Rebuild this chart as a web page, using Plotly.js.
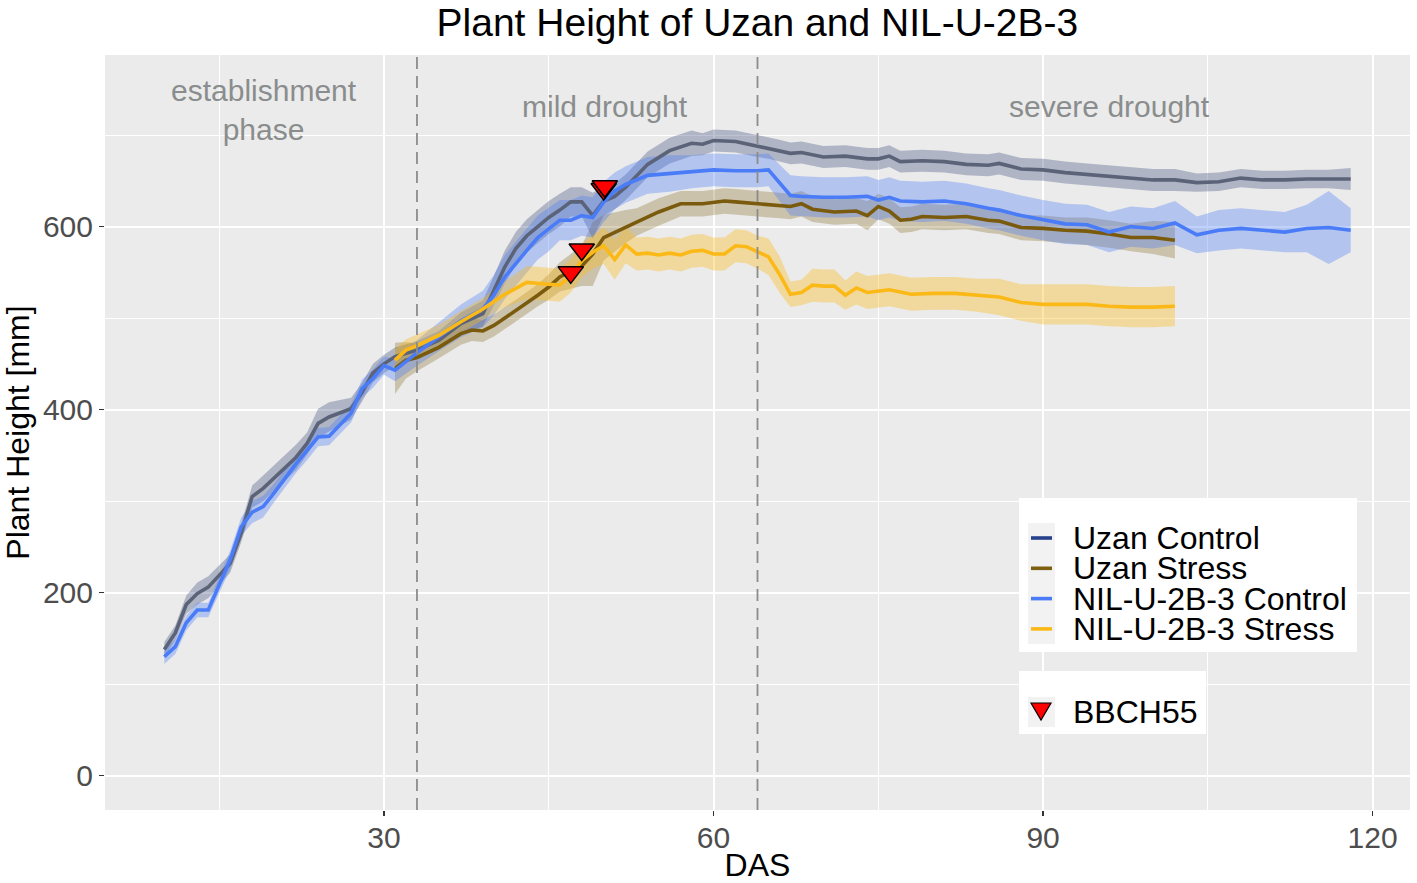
<!DOCTYPE html>
<html>
<head>
<meta charset="utf-8">
<script src="https://cdn.plot.ly/plotly-3.0.1.min.js"></script>
<style>
  html, body { margin: 0; padding: 0; background: #fff; }
  #graph { width: 1417px; height: 883px; }
</style>
</head>
<body>
<div id="graph"></div>
<script>
'use strict';

// Days after sowing, control plants
var ctrlDays = [10,11,12,13,14,16,17,18,19,20,22,23,24,25,27,28,29,30,31,33,35,37,39,
  40,41,42,43,44,45,46,47,48,49,50,51,52,54,56,58,59,60,62,64,65,66,67,68,
  70,72,74,75,76,77,79,81,83,85,86,88,90,92,94,96,98,100,102,104,106,108,110,112,114,116,118];

var uzanCtrl = [138,156,187,199,206,232,265,305,314,325,348,363,385,392,401,419,440,450,458,465,476,494,505,
  530,556,576,590,600,610,618,627,627,612,628,633,643,668,683,691,690,694,693,688,686,683,680,681,
  676,677,674,674,677,671,672,671,668,667,669,663,662,659,657,655,653,651,651,648,649,653,651,651,652,652,652];
var uzanCtrlSd = [8,8,10,12,12,10,10,12,14,14,14,12,16,16,12,10,10,10,10,10,10,12,14,
  16,18,18,18,18,18,18,16,16,25,16,14,14,14,14,14,12,12,12,12,12,12,12,12,
  12,12,12,12,12,12,12,12,12,12,12,12,12,12,12,12,12,12,12,10,10,10,10,10,10,10,12];

var nilCtrl = [130,141,167,181,181,236,272,288,294,309,341,355,370,371,396,423,434,448,443,462,480,497,510,
  525,545,560,574,588,597,607,607,612,610,627,639,646,656,658,660,661,662,661,661,662,648,634,633,
  632,632,633,629,632,628,627,628,625,620,618,612,607,603,602,594,600,598,604,591,596,598,596,594,598,599,596];
var nilCtrlSd = [8,8,8,8,8,10,10,12,12,10,10,10,10,10,10,10,10,10,12,14,16,18,20,
  22,24,24,24,24,24,22,22,22,22,22,20,20,20,20,18,18,18,18,18,18,20,22,22,
  22,22,22,22,22,22,22,22,22,22,22,22,22,22,22,22,22,22,24,20,22,22,22,22,26,40,24];

// Days after sowing, stressed plants
var uzanStressDays = [31,32,33,35,37,38,39,40,41,42,44,45,46,48,49,50,52,53,55,57,59,61,62,64,
  66,67,68,69,71,73,74,75,76,77,78,79,81,83,85,86,88,90,92,94,96,98,100,102];
var uzanStress = [445,454,457,468,483,487,486,492,500,508,525,534,545,557,570,588,600,605,616,625,625,628,627,625,
  623,622,625,619,616,617,612,622,617,607,608,611,610,611,607,606,599,598,596,595,592,588,588,585];
var uzanStressSd = [28,20,15,12,12,12,12,12,12,12,12,14,16,22,35,25,18,15,15,14,14,14,14,14,
  14,14,14,14,14,14,16,14,14,14,14,14,14,14,14,14,14,14,14,15,15,15,18,20];

var nilStressDays = [31,32,33,35,37,39,41,43,45,46,47,48,49,50,51,52,53,54,55,56,57,58,59,60,61,62,63,64,65,66,
  67,68,69,70,71,72,73,74,76,78,80,82,84,86,88,90,92,94,96,98,100,102];
var nilStress = [454,465,470,481,496,510,526,539,537,536,546,563,572,579,564,580,570,571,569,571,569,573,574,570,570,579,578,572,567,548,
  526,528,536,535,535,525,533,528,531,526,527,527,525,523,517,515,515,515,513,512,512,513];
var nilStressSd = [12,12,12,12,12,12,14,18,18,18,18,18,18,20,22,20,18,18,18,18,18,18,18,18,18,18,18,18,20,20,
  14,14,18,18,18,16,18,18,18,18,18,18,18,20,20,22,22,22,22,22,22,22];

// BBCH55 (heading) events
var bbchDays = [50, 50.1, 48, 47];
var bbchHeight = [641, 644, 575, 550];

var seriesNames = ['Uzan Control', 'Uzan Stress', 'NIL-U-2B-3 Control', 'NIL-U-2B-3 Stress'];
var phaseLines = [33, 64];

/**
 *
 * Styles.
 *
 */
var lineColors = ['#5b6379', '#7a5a0c', '#4a7cf7', '#fbb917'];
var keyColors = ['#27408b', '#7f5f10', '#4a7cf7', '#fbb917'];
var ribbonColors = ['rgba(40,55,110,0.30)', 'rgba(122,90,12,0.28)', 'rgba(74,124,247,0.35)', 'rgba(251,185,23,0.36)'];
var font = 'Liberation Sans, Arial, sans-serif';

// plot area in pixels, used to place the hand made legend boxes
var plotBox = { l: 105, r: 1410, t: 55, b: 810 };
function px( v ){ return ( v - plotBox.l ) / ( plotBox.r - plotBox.l ); }
function py( v ){ return ( plotBox.b - v ) / ( plotBox.b - plotBox.t ); }

function ribbon( x, y, sd, color ){
  var upper = [], lower = [];
  for ( var i = 0; i < x.length; i++ ) {
    upper.push( y[i] + sd[i] );
    lower.push( y[i] - sd[i] );
  }
  return {
    type: 'scatter', mode: 'lines',
    x: x.concat( x.slice().reverse() ),
    y: upper.concat( lower.reverse() ),
    fill: 'toself', fillcolor: color,
    line: { width: 0 }, hoverinfo: 'skip', showlegend: false
  };
}

function line( x, y, color ){
  return {
    type: 'scatter', mode: 'lines', x: x, y: y,
    line: { color: color, width: 3.6 }, showlegend: false
  };
}

var groups = [
  [ctrlDays, uzanCtrl, uzanCtrlSd],
  [uzanStressDays, uzanStress, uzanStressSd],
  [ctrlDays, nilCtrl, nilCtrlSd],
  [nilStressDays, nilStress, nilStressSd]
];

var data = [];
groups.forEach(function( g, i ){ data.push( ribbon( g[0], g[1], g[2], ribbonColors[i] ) ); });
groups.forEach(function( g, i ){ data.push( line( g[0], g[1], lineColors[i] ) ); });

data.push({
  type: 'scatter', mode: 'markers', x: bbchDays, y: bbchHeight, name: 'BBCH55', showlegend: false,
  marker: { symbol: 'triangle-down', size: 22, color: '#ff0000', line: { color: '#000', width: 1.5 } }
});

/**
 *
 * Phase separators and labels.
 *
 */
var shapes = phaseLines.map(function( d ){
  return {
    type: 'line', xref: 'x', yref: 'paper', x0: d, x1: d, y0: 0, y1: 1,
    line: { color: '#8c8c8c', width: 1.8, dash: '12px,7px' }
  };
});

var phaseText = { color: '#8a8d8d', size: 30, family: font };
var annotations = [
  { x: 19.1, y: 727, text: 'establishment<br>phase' },
  { x: 50.1, y: 731, text: 'mild drought' },
  { x: 96, y: 731, text: 'severe drought' }
].map(function( a ){
  return { x: a.x, y: a.y, xref: 'x', yref: 'y', text: a.text, showarrow: false, font: phaseText };
});

/**
 *
 * Legend (ggplot style: white boxes with grey key column).
 *
 */
var legendText = { family: font, size: 32, color: '#000' };

function rect( x0, y0, x1, y1, fill ){
  return { type: 'rect', xref: 'paper', yref: 'paper', layer: 'above',
    x0: px( x0 ), x1: px( x1 ), y0: py( y0 ), y1: py( y1 ),
    fillcolor: fill, line: { width: 0 } };
}

shapes.push( rect( 1019, 498, 1357, 652, '#ffffff' ) );
shapes.push( rect( 1028, 523, 1055, 644, '#f2f2f2' ) );
seriesNames.forEach(function( name, i ){
  var yc = 538 + i * 30.3;
  shapes.push({ type: 'line', xref: 'paper', yref: 'paper', layer: 'above',
    x0: px( 1031 ), x1: px( 1052 ), y0: py( yc ), y1: py( yc ),
    line: { color: keyColors[i], width: 3.6 } });
  annotations.push({ xref: 'paper', yref: 'paper', x: px( 1071 ), y: py( yc ),
    xanchor: 'left', yanchor: 'middle', text: name, showarrow: false, font: legendText });
});

shapes.push( rect( 1019, 671, 1206, 734, '#ffffff' ) );
shapes.push( rect( 1028, 697, 1055, 727, '#f2f2f2' ) );
shapes.push({ type: 'path', xref: 'paper', yref: 'paper', layer: 'above',
  path: 'M ' + px( 1031 ) + ',' + py( 703 ) + ' L ' + px( 1051 ) + ',' + py( 703 ) +
        ' L ' + px( 1041 ) + ',' + py( 720 ) + ' Z',
  fillcolor: '#ff0000', line: { color: '#000', width: 1.2 } });
annotations.push({ xref: 'paper', yref: 'paper', x: px( 1071 ), y: py( 712 ),
  xanchor: 'left', yanchor: 'middle', text: 'BBCH55', showarrow: false, font: legendText });

var axisBase = {
  showline: false, zeroline: false,
  gridcolor: '#ffffff', gridwidth: 2,
  ticks: 'outside', ticklen: 5, tickwidth: 1.5, tickcolor: '#333333',
  tickfont: { family: font, size: 30, color: '#4d4d4d' },
  automargin: false
};

var layout = {
  width: 1417, height: 883,
  margin: { l: 105, r: 7, t: 55, b: 73 },
  paper_bgcolor: '#ffffff', plot_bgcolor: '#ebebeb',
  font: { family: font },
  showlegend: false,
  title: { text: 'Plant Height of Uzan and NIL-U-2B-3', x: 0.5345, xanchor: 'center', y: 0.975, yanchor: 'middle',
    font: { family: font, size: 39, color: '#000' } },
  xaxis: Object.assign({}, axisBase, {
    range: [4.6, 123.4], tickvals: [30, 60, 90, 120], ticklabelstandoff: -4,
    minor: { tickvals: [15, 45, 75, 105], showgrid: true, gridcolor: '#ffffff', gridwidth: 1, ticks: '' },
    title: { text: 'DAS', standoff: 0, font: { family: font, size: 32, color: '#000' } }
  }),
  yaxis: Object.assign({}, axisBase, {
    range: [-37.5, 787.5], tickvals: [0, 200, 400, 600],
    minor: { tickvals: [100, 300, 500, 700], showgrid: true, gridcolor: '#ffffff', gridwidth: 1, ticks: '' },
    title: { text: 'Plant Height [mm]', standoff: 6, font: { family: font, size: 32, color: '#000' } }
  }),
  shapes: shapes,
  annotations: annotations,
  hovermode: false
};

Plotly.newPlot( 'graph', data, layout, { displayModeBar: false, staticPlot: true } );
</script>
</body>
</html>
